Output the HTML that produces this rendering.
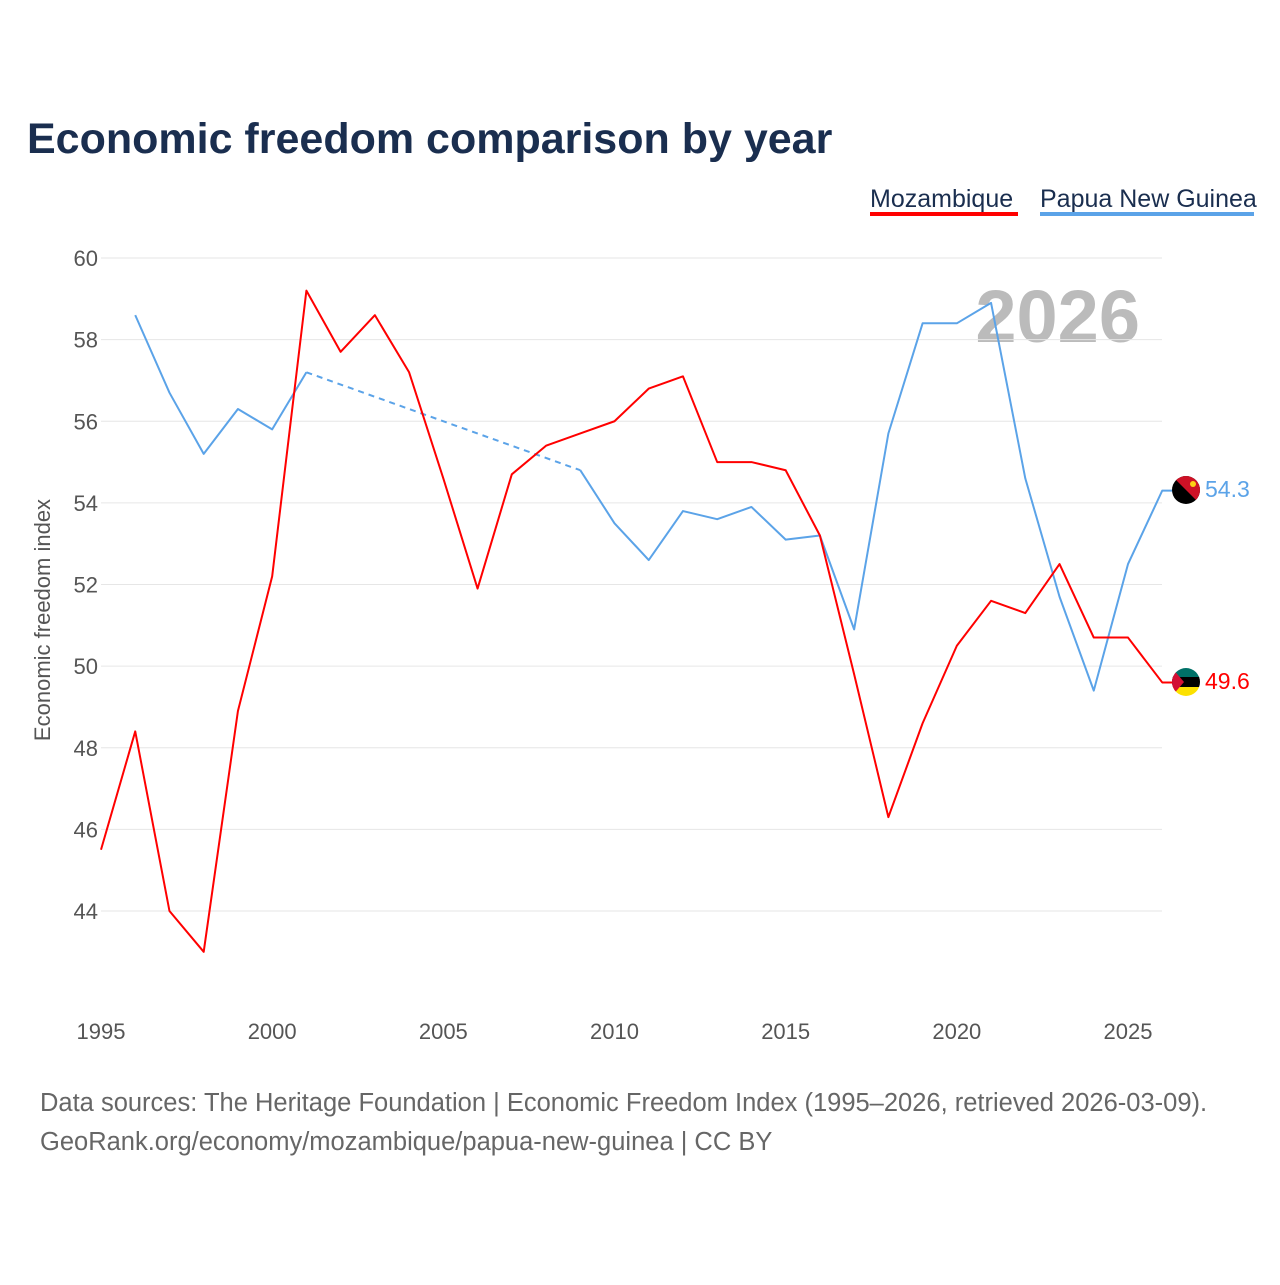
<!DOCTYPE html>
<html><head><meta charset="utf-8"><style>
body{margin:0;background:#fff;width:1280px;height:1280px;overflow:hidden;font-family:"Liberation Sans",sans-serif}
</style></head><body>
<svg width="1280" height="1280" xmlns="http://www.w3.org/2000/svg">
<text x="27" y="153" font-size="43" font-weight="bold" fill="#1a2e4f">Economic freedom comparison by year</text>
<g>
<text x="870" y="207" font-size="25" fill="#1a2e4f">Mozambique</text>
<rect x="870" y="212" width="148" height="4" fill="#ff0000"/>
<text x="1040" y="207" font-size="25" fill="#1a2e4f">Papua New Guinea</text>
<rect x="1040" y="212" width="214" height="4" fill="#5ba3e8"/>
</g>
<text x="1140" y="342" font-size="74" font-weight="bold" fill="#bbbbbb" text-anchor="end">2026</text>
<g id="grid"></g>
<g id="yt"></g>
<g id="xt"></g>
<text transform="translate(50,620) rotate(-90)" text-anchor="middle" font-size="22" fill="#555">Economic freedom index</text>
<g id="series"></g>
<g><clipPath id="c1"><circle cx="1186" cy="490" r="14"/></clipPath><g clip-path="url(#c1)"><rect x="1172" y="476" width="28" height="28" fill="#000"/><polygon points="1172,476 1200,476 1200,504" fill="#ce1126"/><circle cx="1193" cy="484" r="3" fill="#fcd116"/></g></g>
<g><clipPath id="c2"><circle cx="1186" cy="682" r="14"/></clipPath><g clip-path="url(#c2)"><rect x="1172" y="668" width="28" height="10" fill="#007168"/><rect x="1172" y="677" width="28" height="10" fill="#000"/><rect x="1172" y="687" width="28" height="10" fill="#fce100"/><polygon points="1172,668 1184,682 1172,696" fill="#d21034"/></g></g>
<text x="1205" y="497" font-size="23" fill="#5ba3e8">54.3</text>
<text x="1205" y="689" font-size="23" fill="#ff0000">49.6</text>
<text x="40" y="1111" font-size="25.5" fill="#666">Data sources: The Heritage Foundation | Economic Freedom Index (1995–2026, retrieved 2026-03-09).</text>
<text x="40" y="1150" font-size="25.5" fill="#666">GeoRank.org/economy/mozambique/papua-new-guinea | CC BY</text>
</svg>
<script>
const years=[1995,1996,1997,1998,1999,2000,2001,2002,2003,2004,2005,2006,2007,2008,2009,2010,2011,2012,2013,2014,2015,2016,2017,2018,2019,2020,2021,2022,2023,2024,2025,2026];
const mozambique=[45.5,48.4,44.0,43.0,48.9,52.2,59.2,57.7,58.6,57.2,54.6,51.9,54.7,55.4,55.7,56.0,56.8,57.1,55.0,55.0,54.8,53.2,49.8,46.3,48.6,50.5,51.6,51.3,52.5,50.7,50.7,49.6];
const png=[null,58.6,56.7,55.2,56.3,55.8,57.2,null,null,null,null,null,null,null,54.8,53.5,52.6,53.8,53.6,53.9,53.1,53.2,50.9,55.7,58.4,58.4,58.9,54.6,51.7,49.4,52.5,54.3];
const yTicks=[44,46,48,50,52,54,56,58,60];
const xTicks=[1995,2000,2005,2010,2015,2020,2025];
const NS="http://www.w3.org/2000/svg";
const X=y=>101+(y-1995)*(1128-101)/30;
const Y=v=>911-(v-44)*(911-258)/16;
function mk(t,a,p){const e=document.createElementNS(NS,t);for(const k in a)e.setAttribute(k,a[k]);document.getElementById(p).appendChild(e);return e;}
yTicks.forEach(v=>{
 const l=mk('line',{x1:101,x2:1162,y1:Y(v),y2:Y(v),stroke:'#e6e6e6','stroke-width':1},'grid');
 
 
 const t=mk('text',{x:98,y:Y(v)+8,'text-anchor':'end','font-size':22,fill:'#555'},'yt');t.textContent=v;
 
 
});
xTicks.forEach(v=>{
 const t=mk('text',{x:X(v),y:1039,'text-anchor':'middle','font-size':22,fill:'#555'},'xt');t.textContent=v;
 
 
});
function draw(vals,color,name){
 let d='';let prev=null;
 vals.forEach((v,i)=>{if(v==null)return;const c=X(years[i])+','+Y(v);
  if(prev!=null&&prev===i-1)d+='L'+c;else if(prev!=null){
   const g=mk('line',{x1:X(years[prev]),y1:Y(vals[prev]),x2:X(years[i]),y2:Y(v),stroke:color,'stroke-width':2,'stroke-dasharray':'6,5'},'series');
   
   
   d+='M'+c;} else d+='M'+c; prev=i;});
 d+='H1174';
 const p=mk('path',{d:d,fill:'none',stroke:color,'stroke-width':2,'stroke-linejoin':'round'},'series');
 
 
}
draw(png,'#5ba3e8','png');
draw(mozambique,'#ff0000','mozambique');
</script>
</body></html>
